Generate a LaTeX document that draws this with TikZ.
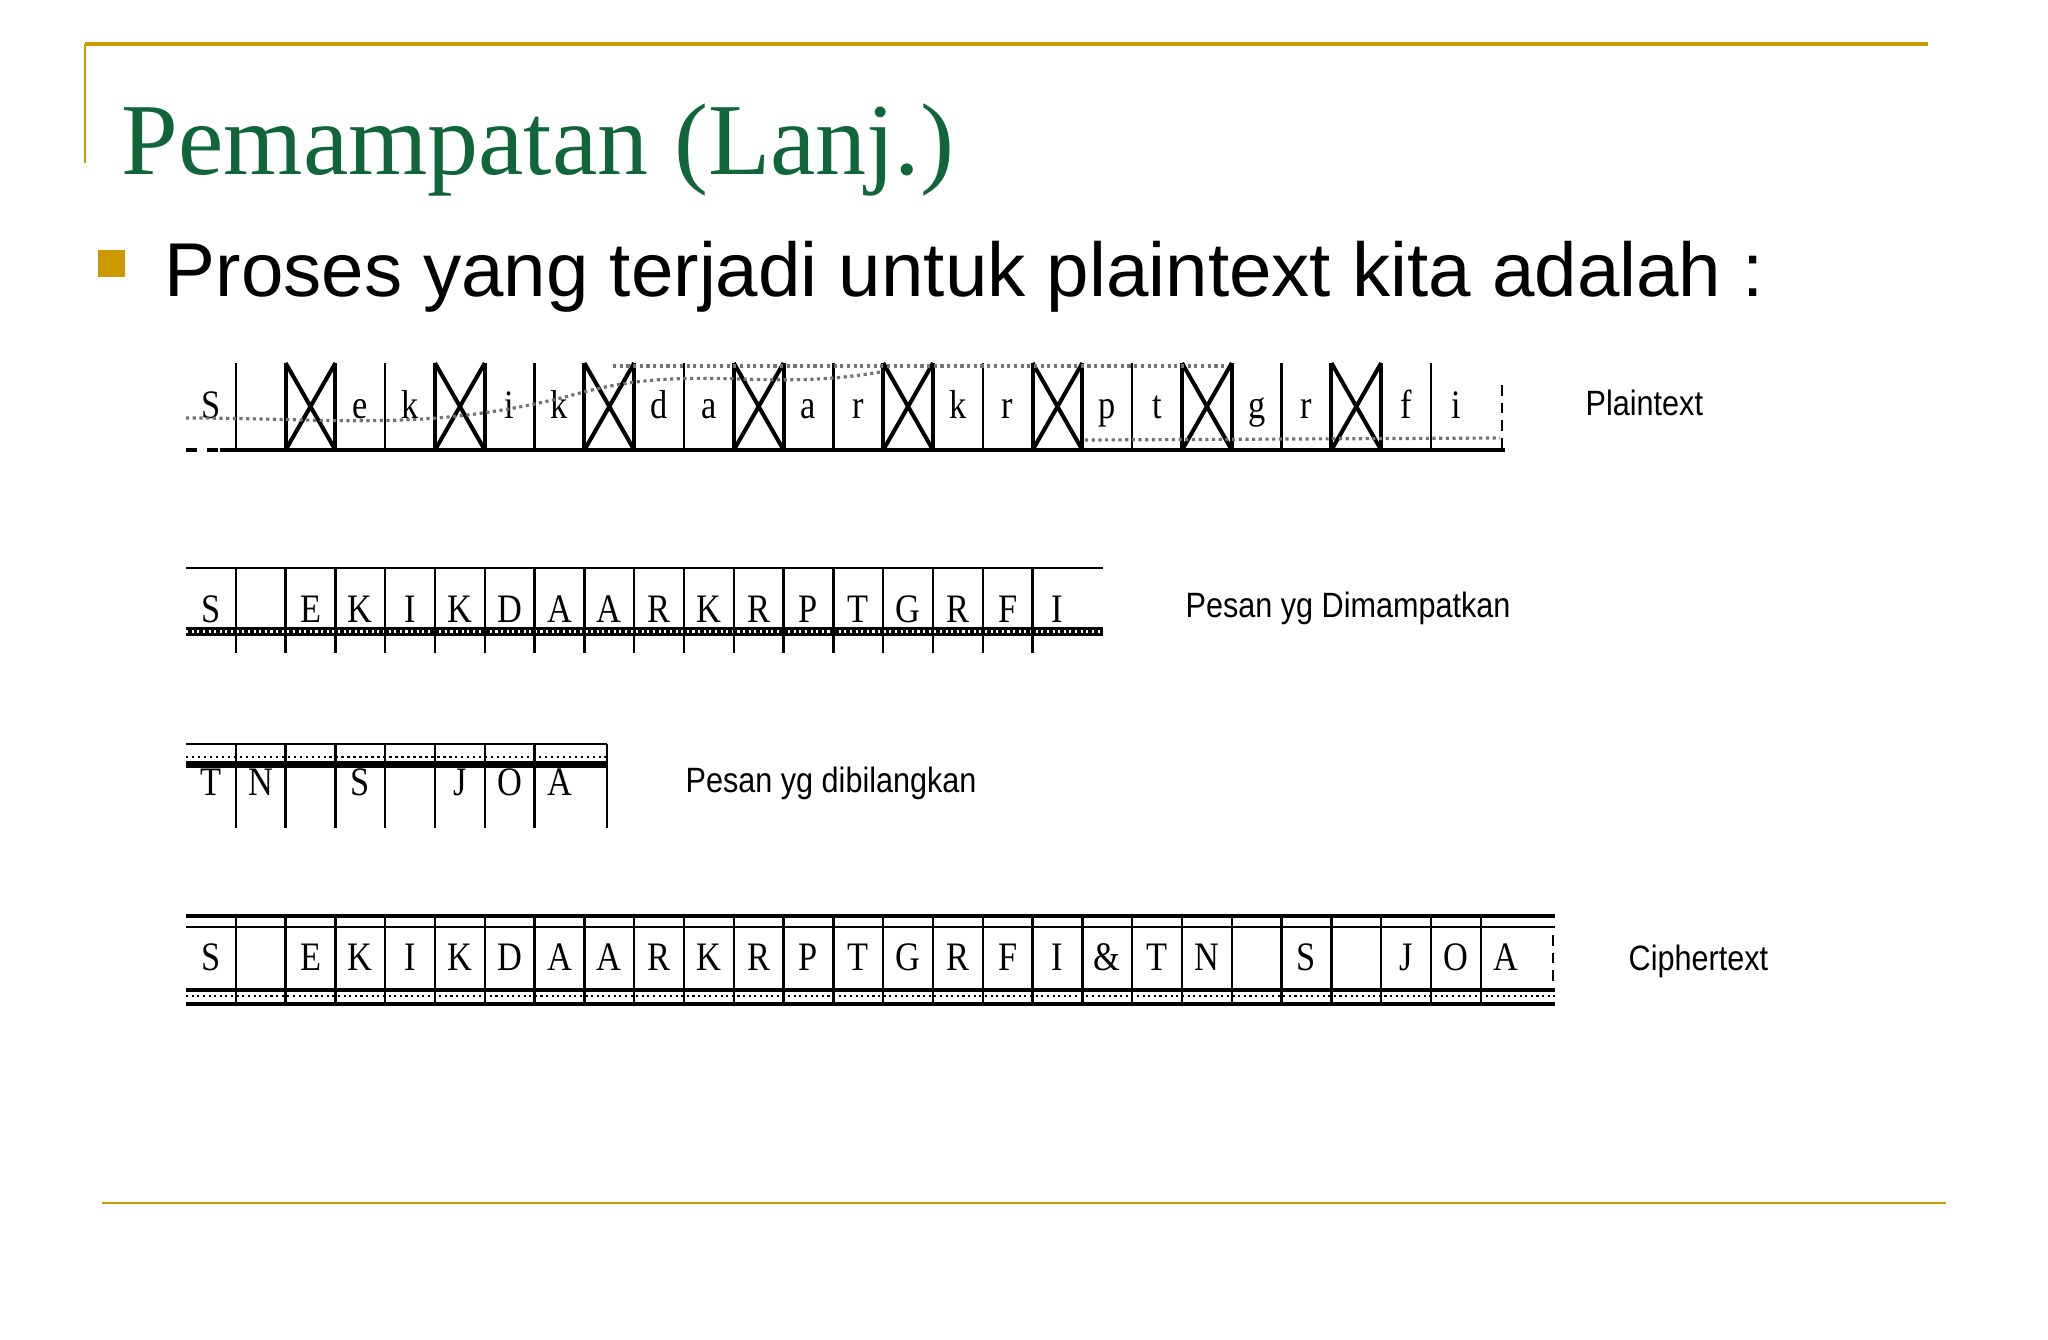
\documentclass[tikz,border=0pt]{standalone}
\usepackage{graphicx}
\usepackage{fontspec}
\setmainfont{Liberation Serif}
\setsansfont{Liberation Sans}
\newfontfamily\cellfont{Liberation Serif}
\newfontfamily\tagfont{Liberation Sans}
\definecolor{gld}{RGB}{204,153,0}
\definecolor{grt}{RGB}{16,102,56}
\newcommand{\narrow}[1]{\scalebox{0.85}[1]{#1}}
\tikzset{
    cellv/.style={line width=0.7pt},
    xbox/.style={line width=1.15pt},
    noise/.style={black!55,densely dotted,line width=0.9pt},
    glyph/.style={inner sep=0pt,anchor=base,font={\fontsize{11.5}{12}\cellfont}},
    tag/.style={inner sep=0pt,anchor=base west,font={\fontsize{10}{12}\tagfont}}
}

\begin{document}
\begin{tikzpicture}[x=0.01cm,y=-0.01cm]
    \useasboundingbox (0,0) rectangle (2048,1339);
    \draw [gld,line width=0.9pt] (85,44) -- (1928,44);
    \draw [gld,line width=0.5pt] (85,44) -- (85,163);
    \draw [gld,line width=0.8pt] (102,1203) -- (1946,1203);
    \node [grt,inner sep=0pt,anchor=base west,font={\fontsize{29}{35}\selectfont}] (title) at (121,174) {Pemampatan (Lanj.)};
    \fill [gld] (98,250) rectangle (125,277);
    \node [inner sep=0pt,anchor=base west,font={\fontsize{21.7}{26}\sffamily}] (lead) at (164,296) {Proses yang terjadi untuk plaintext kita adalah :};
    % plaintext
    \foreach \k in {1,...,25} {
        \draw [cellv] ({186+49.8*\k},363) -- ({186+49.8*\k},450);
    }
    \draw [cellv,densely dashed] (1502,385) -- (1502,448);
    \draw [line width=0.9pt] (220,450) -- (1505,450);
    \draw [line width=0.9pt,dashed] (186,450) -- (220,450);
    \foreach \k in {2,5,...,23} {
        \draw [xbox] ({186+49.8*\k},363) -- ({186+49.8*\k},450)
            ({186+49.8*(\k+1)},363) -- ({186+49.8*(\k+1)},450);
        \draw [xbox] ({186+49.8*\k},363) -- ({186+49.8*(\k+1)},450)
            ({186+49.8*\k},450) -- ({186+49.8*(\k+1)},363);
    }
    \foreach \k/\c in {0/S,3/e,4/k,6/i,7/k,9/d,10/a,12/a,13/r,15/k,16/r,18/p,19/t,21/g,22/r,24/f,25/i} {
        \node [glyph] (p\k) at ({186+49.8*(\k+0.5)},418) {\narrow{\c}};
    }
    \draw [noise] (186,418) to [out=0,in=195] (580,393) to [out=15,in=190] (880,372);
    \draw [noise] (613,366) -- (1225,366);
    \draw [noise] (1085,440) -- (1500,438);
    \node [tag] (plain) at (1585,415) {\scalebox{0.87}[1]{Plaintext}};
    % pesan dimampatkan
    \draw [line width=0.8pt] (186,568) -- (1103,568);
    \fill (186,627) rectangle (1103,636);
    \draw [white,densely dotted,line width=0.6pt] (186,631.5) -- (1103,631.5);
    \foreach \k in {1,...,17} {
        \draw [cellv] ({186+49.8*\k},568) -- ({186+49.8*\k},653);
    }
    \foreach \k/\c in {0/S,2/E,3/K,4/I,5/K,6/D,7/A,8/A,9/R,10/K,11/R,12/P,13/T,14/G,15/R,16/F,17/I} {
        \node [glyph] (m\k) at ({186+49.8*(\k+0.5)},622) {\narrow{\c}};
    }
    \node [tag] (packed) at (1185,617) {\scalebox{0.87}[1]{Pesan yg Dimampatkan}};
    % pesan dibilangkan
    \draw [line width=0.8pt] (186,744) -- (607,744);
    \draw [densely dotted,line width=0.7pt] (186,757) -- (607,757);
    \fill (186,761) rectangle (607,768);
    \foreach \k in {1,...,7} {
        \draw [cellv] ({186+49.8*\k},744) -- ({186+49.8*\k},828);
    }
    \draw [cellv] (607,744) -- (607,828);
    \foreach \k/\c in {0/T,1/N,3/S,5/J,6/O,7/A} {
        \node [glyph] (d\k) at ({186+49.8*(\k+0.5)},795) {\narrow{\c}};
    }
    \node [tag] (dropped) at (685,792) {\scalebox{0.87}[1]{Pesan yg dibilangkan}};
    % ciphertext
    \draw [line width=1pt] (186,916) -- (1555,916);
    \draw [line width=0.6pt] (186,927) -- (1555,927);
    \draw [line width=1pt] (186,990) -- (1555,990);
    \draw [densely dotted,line width=0.6pt] (186,996) -- (1555,996);
    \draw [line width=1pt] (186,1004) -- (1555,1004);
    \foreach \k in {1,...,26} {
        \draw [cellv] ({186+49.8*\k},916) -- ({186+49.8*\k},1004);
    }
    \draw [cellv,densely dashed] (1553,935) -- (1553,985);
    \foreach \k/\c in {0/S,2/E,3/K,4/I,5/K,6/D,7/A,8/A,9/R,10/K,11/R,12/P,13/T,14/G,15/R,16/F,17/I,18/\&,19/T,20/N,22/S,24/J,25/O,26/A} {
        \node [glyph] (c\k) at ({186+49.8*(\k+0.5)},970) {\narrow{\c}};
    }
    \node [tag] (cipher) at (1628,970) {\scalebox{0.87}[1]{Ciphertext}};
\end{tikzpicture}
\end{document}
